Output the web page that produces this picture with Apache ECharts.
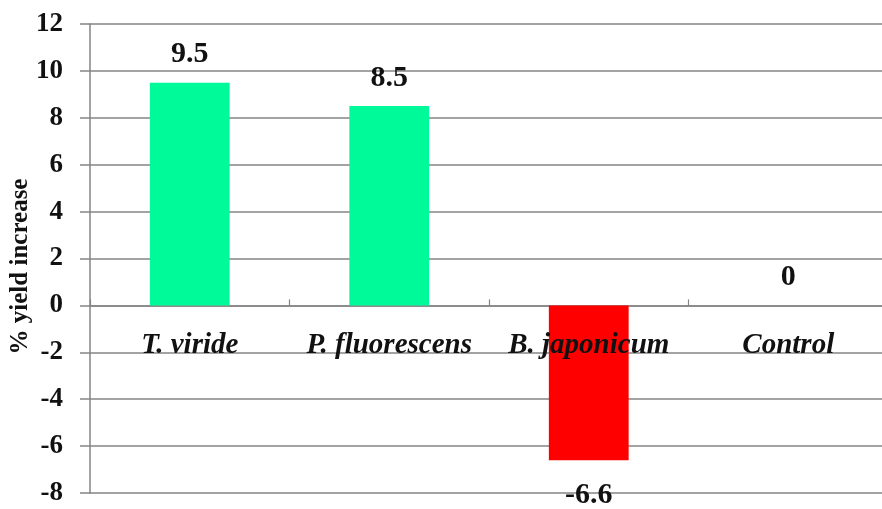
<!DOCTYPE html>
<html>
<head>
<meta charset="utf-8">
<script src="https://cdn.jsdelivr.net/npm/echarts@6/dist/echarts.min.js"></script>
<style>
  html, body { margin: 0; padding: 0; background: #ffffff; }
  #chart { width: 882px; height: 509px; }
</style>
</head>
<body>
<div id="chart"></div>
<script>
// Treatments and their % yield increase
const categories = ['T. viride', 'P. fluorescens', 'B. japonicum', 'Control'];
const yieldIncrease = [9.5, 8.5, -6.6, 0];
const barColors = ['#00FA9A', '#00FA9A', '#FF0000', '#00FA9A'];
const yTicks = { min: -8, max: 12, interval: 2 };

const serif = '"Liberation Serif", "Times New Roman", serif';
const axisGray = '#858585';

const chart = echarts.init(document.getElementById('chart'), null, { renderer: 'canvas' });

chart.setOption({
  animation: false,
  backgroundColor: '#ffffff',
  grid: {
    left: 90, top: 24, width: 798, bottom: 16,
    containLabel: false,
    outerBoundsMode: 'none'
  },
  xAxis: {
    type: 'category',
    data: categories,
    axisLine: { onZero: true, lineStyle: { color: axisGray, width: 1.5 } },
    axisTick: { show: true, inside: true, length: 6, lineStyle: { color: axisGray, width: 1.2 } },
    axisLabel: { show: false }
  },
  yAxis: {
    type: 'value',
    min: yTicks.min,
    max: yTicks.max,
    interval: yTicks.interval,
    name: '% yield increase',
    nameLocation: 'middle',
    nameGap: 57,
    nameRotate: 90,
    nameMoveOverlap: false,
    nameTextStyle: {
      color: '#111', fontFamily: serif, fontWeight: 'bold', fontSize: 25,
      padding: [0, 16, 0, 0]
    },
    axisLine: { show: true, lineStyle: { color: axisGray, width: 1.5 } },
    axisTick: { show: true, length: 10, lineStyle: { color: axisGray, width: 1.5 } },
    axisLabel: {
      margin: 27,
      color: '#111',
      fontFamily: serif,
      fontWeight: 'bold',
      fontSize: 27
    },
    splitLine: { show: true, lineStyle: { color: axisGray, width: 1.5 } }
  },
  series: [
    {
      type: 'bar',
      data: yieldIncrease.map((v, i) => ({
        value: v,
        itemStyle: { color: barColors[i] },
        label: v < 0 ? { position: 'bottom', distance: 20 } : { position: 'top', distance: 13 }
      })),
      barWidth: '40%',
      label: {
        show: true,
        color: '#111',
        fontFamily: serif,
        fontWeight: 'bold',
        fontSize: 30,
        formatter: p => String(p.value)
      }
    },
    {
      // category names sit just under the zero line
      type: 'scatter',
      data: categories.map(c => [c, 0]),
      symbolSize: 0,
      silent: true,
      z: 5,
      itemStyle: { opacity: 1 },
      label: {
        show: true,
        position: 'bottom',
        distance: 26,
        color: '#111',
        fontFamily: serif,
        fontStyle: 'italic',
        fontWeight: 'bold',
        fontSize: 29,
        formatter: p => categories[p.dataIndex]
      }
    }
  ]
});
</script>
</body>
</html>
